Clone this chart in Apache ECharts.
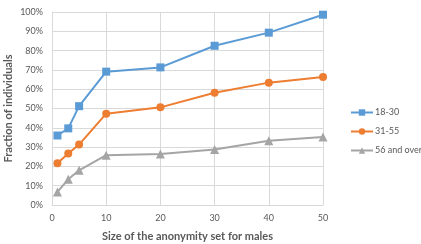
<!DOCTYPE html>
<html><head><meta charset="utf-8">
<script src="https://cdn.jsdelivr.net/npm/echarts@6/dist/echarts.min.js"></script>
<style>html,body{margin:0;padding:0;background:#fff}#c{width:421px;height:244px}</style>
</head><body><div id="c"></div>
<script>
const xValues = [1, 3, 5, 10, 20, 30, 40, 50];
const s18_30 = [36, 39.7, 51.2, 69.1, 71.3, 82.5, 89.3, 98.6];
const s31_55 = [21.6, 26.7, 31.3, 47.3, 50.6, 58.2, 63.4, 66.3];
const s56 = [6.8, 13.3, 18, 25.8, 26.4, 28.7, 33.3, 35.2];
const seriesNames = ['18-30', '31-55', '56 and over'];
const xTitle = 'Size of the anonymity set for males';
const yTitle = 'Fraction of individuals';

const font = 'Lato, "Open Sans", sans-serif';
const pair = arr => xValues.map((x, i) => [x, arr[i]]);
const chart = echarts.init(document.getElementById('c'), null, {renderer: 'canvas'});
const mk = (name, data, color, symbol, size) => ({
  name, type: 'line', data: pair(data), symbol, symbolSize: size,
  lineStyle: {color, width: 2}, itemStyle: {color}, animation: false
});
chart.setOption({
  animation: false,
  textStyle: {fontFamily: font},
  grid: {left: 52, right: 98, top: 12, bottom: 39, containLabel: false, outerBoundsMode: 'none'},
  xAxis: {
    type: 'value', min: 0, max: 50, interval: 10,
    name: xTitle, nameLocation: 'middle', nameGap: 26, nameMoveOverlap: false,
    nameTextStyle: {fontSize: 11, fontWeight: 'bold', color: '#595959', fontFamily: font},
    axisLine: {show: true, lineStyle: {color: '#D9D9D9'}},
    axisTick: {show: false},
    axisLabel: {fontSize: 9, color: '#595959', margin: 9},
    splitLine: {show: true, lineStyle: {color: '#D9D9D9'}}
  },
  yAxis: {
    type: 'value', min: 0, max: 100, interval: 10,
    name: yTitle, nameLocation: 'middle', nameGap: 38, nameRotate: 90, nameMoveOverlap: false,
    nameTextStyle: {fontSize: 11, fontWeight: 'bold', color: '#595959', fontFamily: font},
    axisLine: {show: true, lineStyle: {color: '#D9D9D9'}},
    axisTick: {show: false},
    axisLabel: {fontSize: 9, color: '#595959', formatter: '{value}%', margin: 9},
    splitLine: {show: true, lineStyle: {color: '#D9D9D9'}}
  },
  legend: {
    orient: 'vertical', left: 345, top: 103, itemGap: 10,
    itemWidth: 22, itemHeight: 8,
    textStyle: {fontSize: 9, color: '#595959', fontFamily: font, padding: [0,0,0,-3]},
    data: seriesNames
  },
  series: [
    mk(seriesNames[0], s18_30, '#5B9BD5', 'rect', 8),
    mk(seriesNames[1], s31_55, '#ED7D31', 'circle', 8),
    mk(seriesNames[2], s56, '#A5A5A5', 'triangle', 9)
  ]
});
</script></body></html>
